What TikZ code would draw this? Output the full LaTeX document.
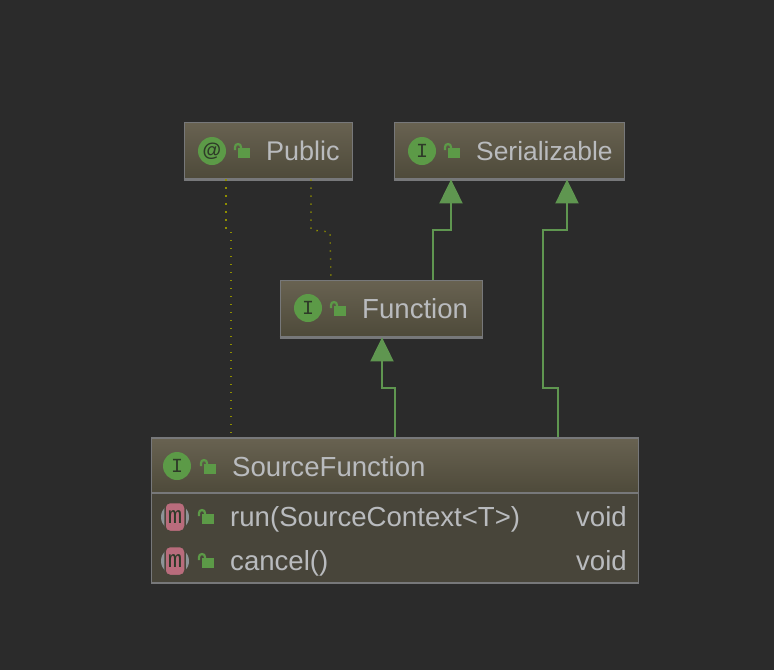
\documentclass[tikz,border=0pt]{standalone}
\usepackage{fontspec}
\setmainfont{Liberation Sans}
\newfontfamily\iconfont{Liberation Mono}
\usetikzlibrary{arrows.meta}
\usetikzlibrary{calc}
\definecolor{canvas}{HTML}{2B2B2B}
\definecolor{boxtop}{HTML}{686251}
\definecolor{boxbottom}{HTML}{4E4A3A}
\definecolor{boxbody}{HTML}{48453A}
\definecolor{boxedge}{HTML}{77787A}
\definecolor{labeltext}{HTML}{B9BBBE}
\definecolor{icongreen}{HTML}{5C9A47}
\definecolor{icondark}{HTML}{2E3A28}
\definecolor{methodpink}{HTML}{B96C7C}
\definecolor{methodgrey}{HTML}{8E9498}
\definecolor{edgegreen}{HTML}{5F9650}
\definecolor{dotolive}{HTML}{8F8F00}
\begin{document}
\begin{tikzpicture}
	[
		x = 1pt, y = -1pt,
		header/.style = {rectangle, inner sep = 0pt, top color = boxtop, bottom color = boxbottom, draw = boxedge, line width = 1.8pt},
		members/.style = {rectangle, inner sep = 0pt, fill = boxbody, draw = boxedge, line width = 1.8pt},
		label/.style = {anchor = base west, inner sep = 0pt, text = labeltext, font = \fontsize{27}{27}\selectfont},
		rowlabel/.style = {label, font = \fontsize{27.6}{27.6}\selectfont},
		kindicon/.style = {circle, inner sep = 0pt, minimum size = 28pt, fill = icongreen, text = icondark, font = \iconfont\fontsize{20}{20}\selectfont},
		methodicon/.style = {circle, inner sep = 0pt, minimum size = 28pt, fill = methodgrey},
		methodface/.style = {rectangle, rounded corners = 5pt, inner sep = 0pt, minimum width = 20pt, minimum height = 29pt, fill = methodpink, draw = boxbody, line width = 1.5pt, text = icondark, font = \iconfont\fontsize{24}{24}\selectfont},
		inherit/.style = {draw = edgegreen, line width = 2pt, -{Triangle[length = 24pt, width = 23pt, fill = edgegreen]}},
		annotated/.style = {draw = dotolive, line width = 1.4pt, dash pattern = on 1.4pt off 6.6pt},
		padlock/.pic = {
			\fill [icongreen] (-2,-2) rectangle (10,8);
			\draw [icongreen, line width = 2.2pt] (-5,0) -- (-5,-3) arc [start angle = 180, end angle = 0, radius = 3pt] -- (1,-2);
		},
	]
	\useasboundingbox [fill = canvas] (0,0) rectangle (774,670);

	\node (public) [header, minimum width = 168pt, minimum height = 56pt] at (268.5,150.5) {};
	\node (serializable) [header, minimum width = 230pt, minimum height = 56pt] at (509.5,150.5) {};
	\node (function) [header, minimum width = 202pt, minimum height = 56pt] at (381.5,308.5) {};
	\node (sourcebody) [members, minimum width = 487pt, minimum height = 90pt] at (395,538) {};
	\node (source) [header, minimum width = 487pt, minimum height = 55pt] at (395,465.5) {};
	\foreach \boxname in {public, serializable, function}
		\draw [boxedge, line width = 3pt] (\boxname.south west) -- (\boxname.south east);

	\node (publicicon) [kindicon, font = \bfseries\fontsize{19}{19}\selectfont] at (212,151) {@};
	\node (serializableicon) [kindicon] at (422,151) {I};
	\node (functionicon) [kindicon] at (308,308) {I};
	\node (sourceicon) [kindicon] at (177,466) {I};

	\pic at (240,150) {padlock};
	\pic at (450,150) {padlock};
	\pic at (336,308) {padlock};
	\pic at (206,466) {padlock};
	\pic at (204,516) {padlock};
	\pic at (204,560) {padlock};

	\node (publiclabel) [label] at (266,160) {Public};
	\node (serializablelabel) [label, font = \fontsize{26.4}{26.4}\selectfont] at (476,160) {Serializable};
	\node (functionlabel) [label, font = \fontsize{27.6}{27.6}\selectfont] at (362,318) {Function};
	\node (sourcelabel) [rowlabel] at (232,476) {SourceFunction};

	\node (runicon) [methodicon] at (175,517) {};
	\node (runface) [methodface] at (175,517) {m};
	\node (cancelicon) [methodicon] at (175,561) {};
	\node (cancelface) [methodface] at (175,561) {m};
	\node (runlabel) [rowlabel] at (230,526) {run(SourceContext<T>)};
	\node (cancellabel) [rowlabel] at (230,570) {cancel()};
	\node (runtype) [rowlabel, anchor = base east] at (627,526) {void};
	\node (canceltype) [rowlabel, anchor = base east] at (627,570) {void};

	% inheritance
	\draw [inherit] (function.north -| 433,0) |- (451,230) -- (serializable.south -| 451,0);
	\draw [inherit] (source.north -| 558,0) |- (543,388) |- (567,230) -- (serializable.south -| 567,0);
	\draw [inherit] (source.north -| 395,0) |- (382,388) -- (function.south -| 382,0);

	% annotation
	\draw [annotated] (public.south -| 226,0) -- (226,230) -- (231,232) -- (source.north -| 231,0);
	\draw [annotated] (public.south -| 311,0) -- (311,230) -- (330,232) -- (function.north -| 331,0);
\end{tikzpicture}
\end{document}
